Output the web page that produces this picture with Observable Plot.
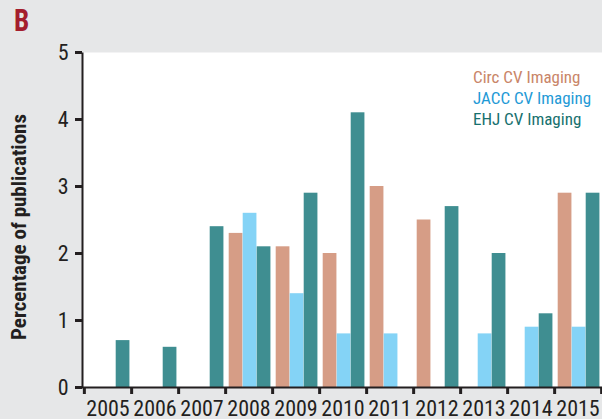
<!DOCTYPE html>
<html>
<head>
<meta charset="utf-8">
<script src="https://cdn.jsdelivr.net/npm/d3@7"></script>
<script src="https://cdn.jsdelivr.net/npm/@observablehq/plot@0.6"></script>
<style>
  html, body { margin: 0; padding: 0; background: #e6e7e8; }
  #wrap { position: relative; width: 602px; height: 419px; overflow: hidden; font-family: "Roboto Condensed", "Roboto", sans-serif; }
  #panel { position: absolute; left: 14px; top: 1px; font-size: 32px; line-height: 38px; font-weight: bold; color: #a41e2d; transform: scaleX(0.85); transform-origin: left top; }
  #legend { position: absolute; left: 473px; top: 67px; font-size: 17px; line-height: 21px; white-space: nowrap; }
</style>
</head>
<body>
<div id="wrap">
  <div id="chart"></div>
  <div id="panel">B</div>
  <div id="legend"></div>
</div>
<script>
const years = ["2005","2006","2007","2008","2009","2010","2011","2012","2013","2014","2015"];
const circ = [null, null, null, 2.3, 2.1, 2.0, 3.0, 2.5, null, null, 2.9];
const jacc = [null, null, null, 2.6, 1.4, 0.8, 0.8, null, 0.8, 0.9, 0.9];
const ehj  = [0.7, 0.6, 2.4, 2.1, 2.9, 4.1, null, 2.7, 2.0, 1.1, 2.9];
const seriesNames = ["Circ CV Imaging", "JACC CV Imaging", "EHJ CV Imaging"];
const barColors = ["#d69d86", "#84d3f6", "#3f8e91"];
const legendColors = ["#c98568", "#1f9ad6", "#17706e"];
const yTicks = [0, 1, 2, 3, 4, 5];
const yTitle = "Percentage of publications";

const W = 602, H = 419, mL = 82, mR = 0, mT = 52, mB = 32;
const fw = W - mL - mR, fh = H - mT - mB;
const bw = fw / years.length;
const barW = 14, lead = 3.7;
const axisColor = "#231f20";
const font = '"Roboto Condensed", "Roboto", sans-serif';

function rows(vals) {
  return years.map((y, i) => ({year: y, value: vals[i]})).filter(d => d.value != null);
}
const seriesVals = [circ, jacc, ehj];

const bars = seriesVals.map((vals, k) =>
  Plot.barY(rows(vals), {
    x: "year", y: "value", fill: barColors[k],
    insetLeft: lead + k * barW,
    insetRight: bw - lead - (k + 1) * barW
  })
);

const chart = Plot.plot({
  width: W, height: H,
  marginLeft: mL, marginRight: mR, marginTop: mT, marginBottom: mB,
  style: {background: "#e6e7e8", fontFamily: font, color: axisColor, overflow: "visible"},
  x: {type: "band", domain: years, padding: 0, axis: null},
  y: {domain: [0, 5], axis: null},
  marks: [
    Plot.frame({fill: "white"}),
    ...bars,
    Plot.frame({stroke: axisColor, strokeWidth: 2, strokeDasharray: `0 ${fw + fh} ${fw + fh}`}),
    Plot.axisY({ticks: yTicks, tickFormat: d => String(d), tickSize: 7, tickPadding: 7, strokeWidth: 3, fontSize: 22, color: axisColor, label: null}),
    Plot.axisX({tickSize: 0, tickPadding: 13, fontSize: 22, color: axisColor, label: null}),
    Plot.axisX({tickSize: 7, dx: bw / 2, strokeWidth: 3, tickFormat: () => "", color: axisColor, label: null}),
    Plot.axisX({ticks: [years[0]], tickSize: 7, dx: -bw / 2, strokeWidth: 3, tickFormat: () => "", color: axisColor, label: null}),
    Plot.text([yTitle], {text: d => d, frameAnchor: "left", textAnchor: "middle", lineAnchor: "middle", rotate: -90, dx: -63, dy: 7, fontSize: 21, fontWeight: "bold", fill: axisColor})
  ]
});
document.getElementById("chart").append(chart);

const legend = document.getElementById("legend");
seriesNames.forEach((name, k) => {
  const div = document.createElement("div");
  div.textContent = name;
  div.style.color = legendColors[k];
  legend.append(div);
});
</script>
</body>
</html>
